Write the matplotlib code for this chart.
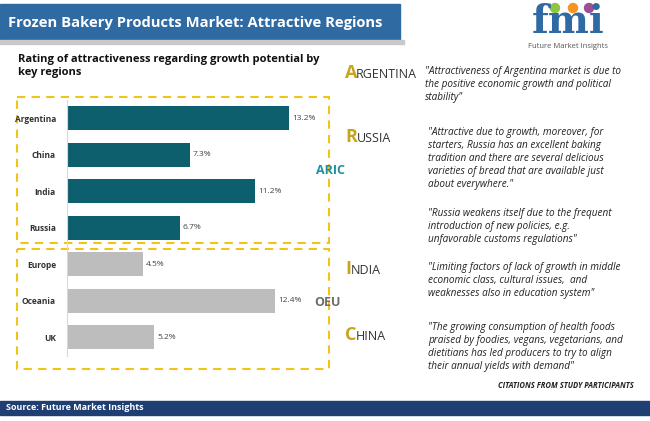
import matplotlib
matplotlib.use("Agg")
import matplotlib.pyplot as plt
from matplotlib.patches import Rectangle

categories = ["Argentina", "China", "India", "Russia", "Europe", "Oceania", "UK"]
values = [13.2, 7.3, 11.2, 6.7, 4.5, 12.4, 5.2]
groups = ["ARIC", "ARIC", "ARIC", "ARIC", "OEU", "OEU", "OEU"]
labels = ["13.2%", "7.3%", "11.2%", "6.7%", "4.5%", "12.4%", "5.2%"]

W, H = 650, 421
fig = plt.figure(figsize=(6.5, 4.21), dpi=100)
fig.patch.set_facecolor("white")
plt.rcParams['font.family'] = ['Open Sans', 'DejaVu Sans']

def fx(x): return x / W
def fy(y): return 1 - y / H

ov = fig.add_axes([0, 0, 1, 1])
ov.set_xlim(0, W); ov.set_ylim(H, 0); ov.axis("off")

# title banner
ov.add_patch(Rectangle((0, 4), 400, 36, color="#2f6aa3"))
ov.add_patch(Rectangle((0, 40), 404, 4, color="#c9c9c9"))
ov.text(8, 23, "Frozen Bakery Products Market: Attractive Regions", color="white",
        fontsize=10.6, fontweight="bold", va="center", family=["Open Sans"])
# logo
ov.text(568, 22, "fmi", color="#2f6aa3", fontsize=28, fontweight="bold", ha="center", va="center", family=["DejaVu Serif"])
ov.text(568, 47, "Future Market Insights", color="#555555", fontsize=5.5, ha="center", va="center")
for cx, c in [(555, "#8dc63f"), (573, "#f7941d"), (589, "#9b4f96")]:
    ov.add_patch(plt.Circle((cx, 8), 4.5, color=c))

ov.text(18, 66, "Rating of attractiveness regarding growth potential by\nkey regions",
        fontsize=8, fontweight="bold", va="center", linespacing=1.2, color="#111111")

# dashed boxes
ov.add_patch(Rectangle((17, 97), 312, 146, fill=False, ls=(0, (4, 3)), lw=1.5, ec="#f0c419"))
ov.add_patch(Rectangle((17, 249), 312, 120, fill=False, ls=(0, (4, 3)), lw=1.5, ec="#f0c419"))
ov.text(316, 170, "ARIC", color="#1b8fa8", fontsize=9, fontweight="bold", va="center")
ov.text(314, 303, "OEU", color="#6d6d6d", fontsize=9, fontweight="bold", va="center")

# bars
ax = fig.add_axes([fx(67), fy(355.5), fx(330 - 67), (355.5 - 100) / H])
colors = {"ARIC": "#0e5f6e", "OEU": "#bdbdbd"}
ypos = list(range(len(categories)))
ax.barh(ypos, values, height=0.66, color=[colors[g] for g in groups])
for y, v, l in zip(ypos, values, labels):
    ax.text(v + 0.2, y, l, va="center", fontsize=6, color="#444444")
ax.set_xlim(0, 15.65)
ax.set_ylim(6.5, -0.5)
ax.set_yticks(ypos)
ax.set_yticklabels(categories, fontsize=6, fontweight="bold", color="#333333")
ax.tick_params(axis="y", length=0, pad=8)
ax.set_xticks([])
for s in ["top", "right", "bottom"]:
    ax.spines[s].set_visible(False)
ax.spines["left"].set_color("#d9d9d9")
ax.patch.set_alpha(0)

# right panel
gold = "#c9a318"
def head(x, y, word, off):
    ov.text(x, y, word[0], color=gold, fontsize=13, fontweight="bold", va="center")
    ov.text(x + off, y + 1, word[1:], color="#333333", fontsize=9, va="center")
head(345, 73, "ARGENTINA", 11)
head(345, 137, "RUSSIA", 11.5)
head(345, 269, "INDIA", 5.5)
head(345, 335, "CHINA", 10.5)

qs = dict(fontsize=7.2, style="italic", va="top", linespacing=1.25, color="#222222")
ov.text(425, 66, "\"Attractiveness of Argentina market is due to\nthe positive economic growth and political\nstability\"", **qs)
ov.text(428, 127, "\"Attractive due to growth, moreover, for\nstarters, Russia has an excellent baking\ntradition and there are several delicious\nvarieties of bread that are available just\nabout everywhere.\"", **qs)
ov.text(428, 208, "\"Russia weakens itself due to the frequent\nintroduction of new policies, e.g.\nunfavorable customs regulations\"", **qs)
ov.text(428, 262, "\"Limiting factors of lack of growth in middle\neconomic class, cultural issues,  and\nweaknesses also in education system\"", **qs)
ov.text(428, 322, "\"The growing consumption of health foods\npraised by foodies, vegans, vegetarians, and\ndietitians has led producers to try to align\ntheir annual yields with demand\"", **qs)
ov.text(634, 386, "CITATIONS FROM STUDY PARTICIPANTS", fontsize=5.5, style="italic",
        fontweight="bold", ha="right", va="center", color="#222222")

# footer
ov.add_patch(Rectangle((0, 401), W, 14, color="#1f3f73"))
ov.text(6, 408, "Source: Future Market Insights", color="white", fontsize=6.5, fontweight="bold", va="center")

fig.savefig("out.png", dpi=100)
